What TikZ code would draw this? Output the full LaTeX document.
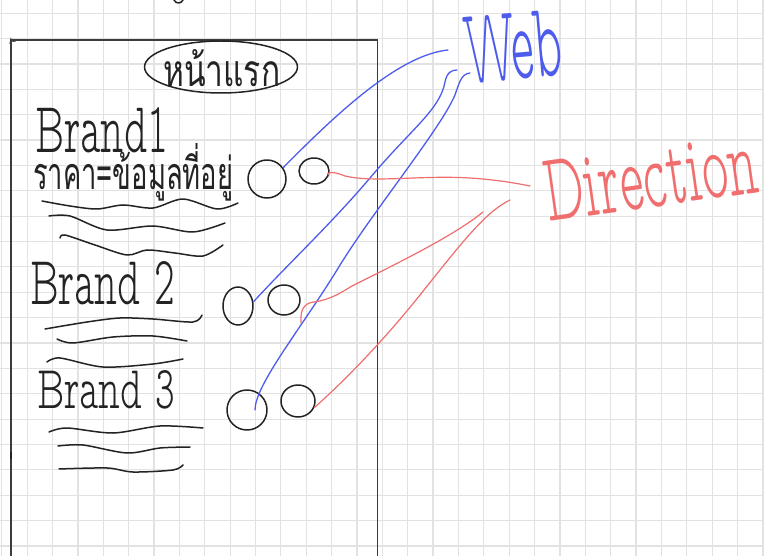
\documentclass[tikz,border=0pt]{standalone}
\usepackage{fontspec}
\usetikzlibrary{shapes.geometric}
\newfontfamily\penfont[Extension=.otf]{lmmonoproplt10-regular}
\newfontfamily\thaifont[Script=Thai]{Loma}
\definecolor{ink}{RGB}{35,35,35}
\definecolor{frameink}{RGB}{60,60,60}
\definecolor{webblue}{RGB}{78,92,238}
\definecolor{dirred}{RGB}{240,110,110}
\definecolor{gridgray}{RGB}{226,226,226}
\begin{document}
\begin{tikzpicture}[x=1pt,y=-1pt,
  pen/.style={draw=ink, line width=1.5pt, line cap=round, line join=round},
  bubble/.style={ellipse, pen, inner sep=0pt},
  hand/.style={anchor=base west, inner sep=0pt, text=ink, font=\penfont},
  weblink/.style={draw=webblue, line width=1.3pt, line cap=round},
  dirlink/.style={draw=dirred, line width=1.2pt, line cap=round},
  gridline/.style={draw=gridgray, line width=1.2pt}]
\useasboundingbox (0,0) rectangle (764,556);
\fill[white] (0,0) rectangle (764,556);
% squared paper
\foreach \k in {0,...,30} \draw[gridline] ({1.8+25.37*\k},0) -- ({1.8+25.37*\k},556);
\foreach \k in {0,...,21} \draw[gridline] (0,{13.2+25.37*\k}) -- (764,{13.2+25.37*\k});
% page frame
\draw[frameink, line width=1.1pt] (11,556) -- (11,40) -- (377.5,40) -- (377.5,556);
\draw[frameink, line width=1.1pt] (10,44) -- (11,39) .. controls (12,42) and (14,42) .. (17,40);
\draw[ink, line width=2pt] (11,452) -- (11,459);
\draw[pen] (174,0) .. controls (176,4) and (181,4) .. (183,0);
% page title
\node[bubble, minimum width=153pt, minimum height=52pt] (homeoval) at (221,67) {};
\node[hand, font=\thaifont] (home) at (163,87) {\resizebox{117pt}{37pt}{หน้าแรก}};
% brand entries
\node[hand] (brandA) at (35,153) {\resizebox{133pt}{45pt}{Brand1}};
\node[hand, font=\thaifont] (infoA) at (33,190) {\resizebox{200pt}{46pt}{ราคา=ข้อมูลที่อยู่}};
\node[hand] (brandB) at (30,305) {\resizebox{145pt}{43pt}{Brand 2}};
\node[hand] (brandC) at (37,408) {\resizebox{138pt}{38pt}{Brand 3}};
% scribbled text lines
\draw[pen] plot[smooth] coordinates {(42,201) (70,206) (97,209) (123,205) (153,208) (183,199) (217,209) (238,203)};
\draw[pen] plot[smooth] coordinates {(49,216) (70,216) (107,230) (153,226) (193,232) (225,223)};
\draw[pen] plot[smooth] coordinates {(60,238) (65,235) (95,245) (127,255) (147,250) (175,253) (203,256) (223,245)};
\draw[pen] plot[smooth] coordinates {(45,329) (87,322) (120,318) (153,319) (193,322) (202,315)};
\draw[pen] plot[smooth] coordinates {(57,339) (73,343) (113,337) (153,336) (187,341)};
\draw[pen] plot[smooth] coordinates {(47,362) (60,358) (103,367) (153,364) (183,359)};
\draw[pen] plot[smooth] coordinates {(49,432) (67,428) (113,433) (160,426) (203,428)};
\draw[pen] plot[smooth] coordinates {(58,446) (83,445) (127,453) (160,448) (190,447)};
\draw[pen] plot[smooth] coordinates {(59,469) (107,468) (133,472) (173,470) (183,465)};
% link buttons
\node[bubble, minimum width=38pt, minimum height=38pt] (c1a) at (267,179) {};
\node[bubble, minimum width=30pt, minimum height=26pt] (c1b) at (314,171) {};
\node[bubble, minimum width=30pt, minimum height=38pt] (c2a) at (238,306) {};
\node[bubble, minimum width=32pt, minimum height=30pt] (c2b) at (284,300) {};
\node[bubble, minimum width=40pt, minimum height=40pt] (c3a) at (247,410) {};
\node[bubble, minimum width=34pt, minimum height=32pt] (c3b) at (298,401) {};
% targets
\node[hand, text=webblue, rotate=5] (web) at (467,84) {\resizebox{98pt}{66pt}{Web}};
\node[hand, text=dirred, rotate=8] (dir) at (548,222) {\resizebox{215pt}{60pt}{Direction}};
\coordinate (webA) at (448,50);
\coordinate (webB) at (457,70);
\coordinate (webC) at (470,73);
\coordinate (dirA) at (530,186);
\coordinate (dirB) at (483,212);
\coordinate (dirC) at (510,200);
\coordinate (c2bfoot) at (301,323);
\coordinate (c3atip) at (255,410);
% web links
\draw[weblink] (c1a.35) .. controls (340,110) and (400,55) .. (webA);
\draw[weblink] (c2a.15) .. controls (290,262) and (330,225) .. (370,178)
  .. controls (410,130) and (440,110) .. (445,82) .. controls (447,72) and (452,70) .. (webB);
\draw[weblink] (c3atip) .. controls (255,385) and (300,330) .. (337,270)
  .. controls (370,215) and (440,130) .. (455,95) .. controls (460,80) and (462,74) .. (webC);
% direction links
\draw[dirlink] (c1b.-15) .. controls (326,172) and (333,171) .. (345,176)
  .. controls (375,183) and (420,175) .. (470,178) .. controls (500,180) and (520,184) .. (dirA);
\draw[dirlink] (c2bfoot) .. controls (300,310) and (304,303) .. (314,302)
  .. controls (330,300) and (342,292) .. (352,286) .. controls (400,262) and (455,235) .. (dirB);
\draw[dirlink] (c3b.-22) .. controls (340,385) and (380,345) .. (420,295)
  .. controls (460,245) and (485,212) .. (dirC);
\end{tikzpicture}
\end{document}
